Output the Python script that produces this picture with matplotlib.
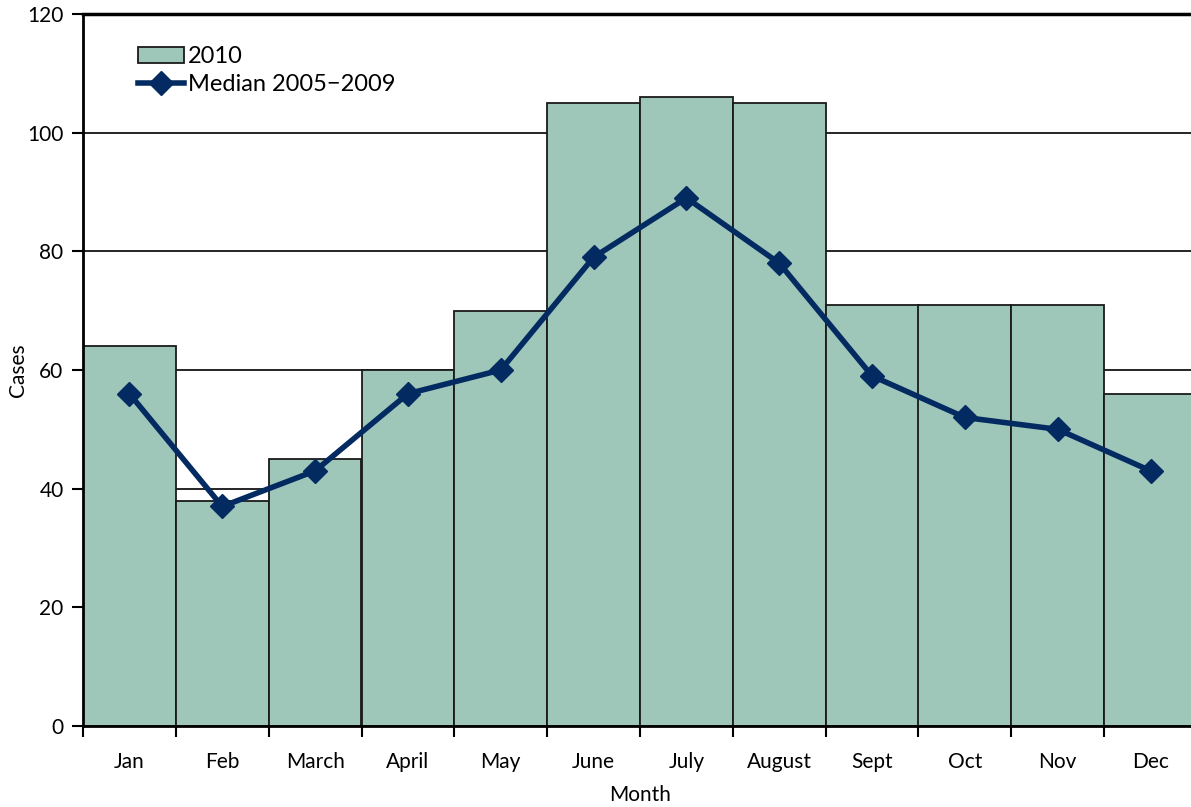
import matplotlib
matplotlib.use("Agg")
import matplotlib.pyplot as plt
from matplotlib.patches import Patch
from matplotlib.lines import Line2D
import numpy as np

plt.rcParams['font.family'] = ['Lato', 'DejaVu Sans']

months = ["Jan", "Feb", "March", "April", "May", "June", "July", "August",
          "Sept", "Oct", "Nov", "Dec"]
cases_2010 = [64, 38, 45, 60, 70, 105, 106, 105, 71, 71, 71, 56]
median_2005_2009 = [56, 37, 43, 56, 60, 79, 89, 78, 59, 52, 50, 43]
yticks = [0, 20, 40, 60, 80, 100, 120]

W, H = 1191, 807
fig = plt.figure(figsize=(W / 100, H / 100), dpi=100)
left, right, top, bottom = 83, 1197, 14, 726
ax = fig.add_axes([left / W, 1 - bottom / H, (right - left) / W, (bottom - top) / H])

x = np.arange(len(months))
ax.bar(x, cases_2010, width=1.0, color="#9FC7B9", edgecolor="#1a1a1a",
       linewidth=1.3, zorder=2)
ax.plot(x, median_2005_2009, color="#042B61", linewidth=4, marker="D",
        markersize=12, zorder=3)

ax.set_xlim(-0.5, len(months) - 0.5)
ax.set_ylim(0, 120)
ax.set_yticks(yticks)
ax.set_yticklabels([str(v) for v in yticks], fontsize=15)
ax.yaxis.grid(True, color="black", linewidth=1.2, zorder=0)
ax.set_axisbelow(True)

ax.set_xticks(x)
ax.set_xticklabels(months, fontsize=15)
ax.tick_params(axis="x", length=0, pad=19)
ax.set_xticks(np.arange(-0.5, len(months), 1.0), minor=True)
ax.tick_params(axis="x", which="minor", length=8, width=1.5, direction="out")
ax.tick_params(axis="y", length=8, width=1.5, direction="out", pad=6)

ax.spines["right"].set_visible(False)
ax.spines["top"].set_linewidth(2.5)
ax.spines["left"].set_linewidth(2)
ax.spines["bottom"].set_linewidth(2)

fig.text(18 / W, 1 - 370 / H, "Cases", fontsize=15, rotation=90,
         ha="center", va="center")
fig.text(640 / W, 1 - 795 / H, "Month", fontsize=15, ha="center", va="center")

handles = [Patch(facecolor="#9FC7B9", edgecolor="#1a1a1a", linewidth=1.3),
           Line2D([0], [0], color="#042B61", linewidth=4, marker="D", markersize=12)]
ax.legend(handles, ["2010", "Median 2005\u22122009"], loc="upper left",
          bbox_to_anchor=(0.041, 0.968), frameon=False, fontsize=17,
          handlelength=1.95, handletextpad=0.15, labelspacing=0.3,
          borderaxespad=0.0)

fig.savefig("out.png", dpi=100)
